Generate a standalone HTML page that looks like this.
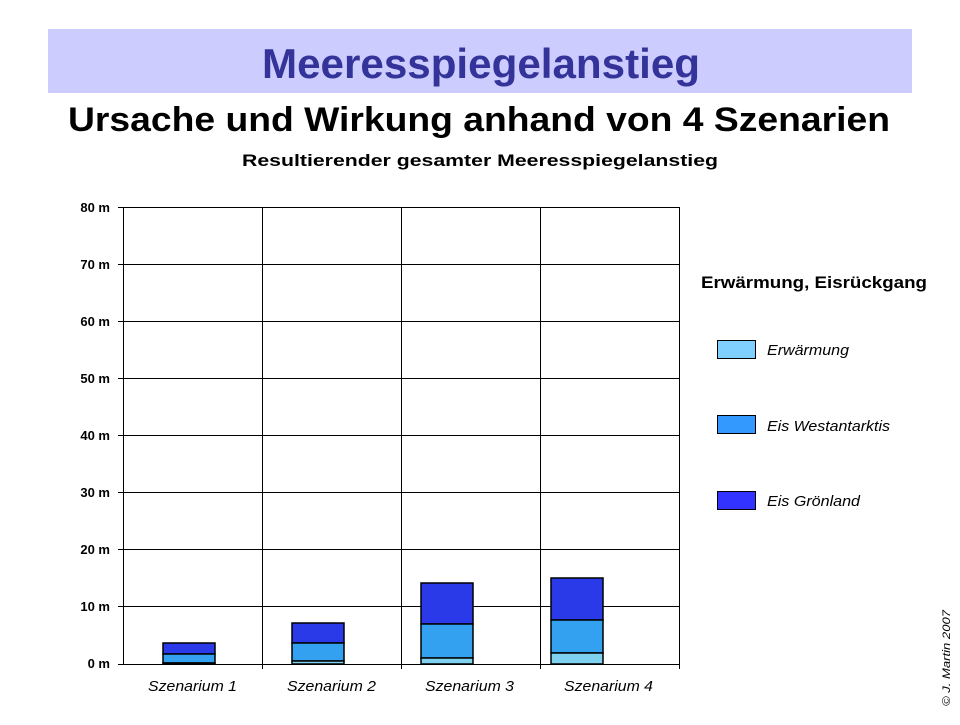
<!DOCTYPE html>
<html><head><meta charset="utf-8"><style>
body{margin:0;width:960px;height:720px;background:#fff;overflow:hidden;font-family:"Liberation Sans",sans-serif}
</style></head><body>
<svg width="960" height="720" xmlns="http://www.w3.org/2000/svg" font-family="Liberation Sans, sans-serif">
<rect x="48" y="29" width="864" height="64" fill="#ccccff"/>
<text x="262" y="78" font-size="42" font-weight="bold" fill="#333399" textLength="438" lengthAdjust="spacingAndGlyphs">Meeresspiegelanstieg</text>
<text x="68" y="131" font-size="34" font-weight="bold" fill="#000" textLength="822" lengthAdjust="spacingAndGlyphs">Ursache und Wirkung anhand von 4 Szenarien</text>
<text x="242" y="166" font-size="17" font-weight="bold" textLength="476" lengthAdjust="spacingAndGlyphs">Resultierender gesamter Meeresspiegelanstieg</text>
<g stroke="#000" stroke-width="1">
<line x1="123" y1="207.5" x2="679" y2="207.5"/>
<line x1="123" y1="264.5" x2="679" y2="264.5"/>
<line x1="123" y1="321.5" x2="679" y2="321.5"/>
<line x1="123" y1="378.5" x2="679" y2="378.5"/>
<line x1="123" y1="435.5" x2="679" y2="435.5"/>
<line x1="123" y1="492.5" x2="679" y2="492.5"/>
<line x1="123" y1="549.5" x2="679" y2="549.5"/>
<line x1="123" y1="606.5" x2="679" y2="606.5"/>
<line x1="118" y1="664.5" x2="679" y2="664.5"/>
<line x1="123.5" y1="207" x2="123.5" y2="664"/>
<line x1="262.5" y1="207" x2="262.5" y2="669"/>
<line x1="401.5" y1="207" x2="401.5" y2="669"/>
<line x1="540.5" y1="207" x2="540.5" y2="669"/>
<line x1="679.5" y1="207" x2="679.5" y2="669"/>
<line x1="118" y1="207.5" x2="123" y2="207.5"/><line x1="118" y1="264.5" x2="123" y2="264.5"/>
<line x1="118" y1="321.5" x2="123" y2="321.5"/><line x1="118" y1="378.5" x2="123" y2="378.5"/>
<line x1="118" y1="435.5" x2="123" y2="435.5"/><line x1="118" y1="492.5" x2="123" y2="492.5"/>
<line x1="118" y1="549.5" x2="123" y2="549.5"/><line x1="118" y1="606.5" x2="123" y2="606.5"/>
</g>
<g font-size="13" font-weight="bold" text-anchor="end">
<text x="110" y="212">80 m</text><text x="110" y="269">70 m</text><text x="110" y="326">60 m</text>
<text x="110" y="383">50 m</text><text x="110" y="440">40 m</text><text x="110" y="497">30 m</text>
<text x="110" y="554">20 m</text><text x="110" y="611">10 m</text><text x="110" y="668">0 m</text>
</g>
<g stroke="#000" stroke-width="1.5">
<rect x="163" y="643" width="52" height="11" fill="#2a3ae8"/>
<rect x="163" y="654" width="52" height="9" fill="#33a0f0"/>
<rect x="163" y="663" width="52" height="1" fill="#80d0f0"/>
<rect x="292" y="623" width="52" height="20" fill="#2a3ae8"/>
<rect x="292" y="643" width="52" height="18" fill="#33a0f0"/>
<rect x="292" y="661" width="52" height="3" fill="#80d0f0"/>
<rect x="421" y="583" width="52" height="41" fill="#2a3ae8"/>
<rect x="421" y="624" width="52" height="34" fill="#33a0f0"/>
<rect x="421" y="658" width="52" height="6" fill="#80d0f0"/>
<rect x="551" y="578" width="52" height="42" fill="#2a3ae8"/>
<rect x="551" y="620" width="52" height="33" fill="#33a0f0"/>
<rect x="551" y="653" width="52" height="11" fill="#80d0f0"/>
</g>
<g font-size="15" font-style="italic">
<text x="148" y="691" textLength="89" lengthAdjust="spacingAndGlyphs">Szenarium 1</text>
<text x="287" y="691" textLength="89" lengthAdjust="spacingAndGlyphs">Szenarium 2</text>
<text x="425" y="691" textLength="89" lengthAdjust="spacingAndGlyphs">Szenarium 3</text>
<text x="564" y="691" textLength="89" lengthAdjust="spacingAndGlyphs">Szenarium 4</text>
</g>
<text x="701" y="288" font-size="17" font-weight="bold" textLength="226" lengthAdjust="spacingAndGlyphs">Erwärmung, Eisrückgang</text>
<g stroke="#000" stroke-width="1">
<rect x="717.5" y="340.5" width="38" height="18" fill="#80d0ff"/>
<rect x="717.5" y="415.5" width="38" height="18" fill="#3399ff"/>
<rect x="717.5" y="491.5" width="38" height="18" fill="#3333ff"/>
</g>
<g font-size="15" font-style="italic">
<text x="767" y="355" textLength="82" lengthAdjust="spacingAndGlyphs">Erwärmung</text>
<text x="767" y="431" textLength="123" lengthAdjust="spacingAndGlyphs">Eis Westantarktis</text>
<text x="767" y="506" textLength="93" lengthAdjust="spacingAndGlyphs">Eis Grönland</text>
</g>
<text transform="translate(950,706) rotate(-90)" font-size="11" font-style="italic" textLength="96" lengthAdjust="spacingAndGlyphs">© J. Martin 2007</text>
</svg>
</body></html>
